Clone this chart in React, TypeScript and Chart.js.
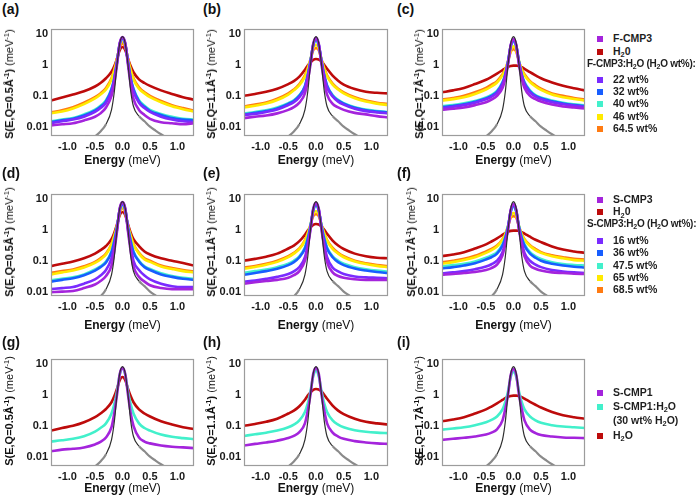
import React, { useEffect, useRef } from 'react';
import { Chart, registerables } from 'chart.js';
Chart.register(...registerables);

const FONT = '"Liberation Sans", Arial, sans-serif';

// Energy grid (meV) shared by all sample curves
const ENERGY = [-1.3, -1.1, -0.9, -0.7, -0.5, -0.4, -0.3, -0.2, -0.15, -0.1, -0.05, 0, 0.05, 0.1, 0.15, 0.2, 0.3, 0.4, 0.5, 0.7, 0.9, 1.1, 1.3];
const X_TICKS = [-1, -0.5, 0, 0.5, 1];
const X_TICK_LABELS = ['-1.0', '-0.5', '0.0', '0.5', '1.0'];
const Y_TICKS = [0.01, 0.1, 1, 10];
const Y_TICK_LABELS = ['0.01', '0.1', '1', '10'];

// Resolution function (vanadium)
const RES_E = [-0.6, -0.5, -0.4, -0.3, -0.2, -0.15, -0.1, -0.05, 0, 0.05, 0.1, 0.15, 0.2, 0.3, 0.4, 0.5, 0.6, 0.7, 0.8, 0.9];
const RES_V = [0.003, 0.0048, 0.007, 0.012, 0.035, 0.13, 1.0, 5.0, 8.2, 5.0, 1.0, 0.14, 0.045, 0.022, 0.015, 0.01, 0.0075, 0.0057, 0.0044, 0.003];

// (a) Q = 0.5
const A_FCMP3 = [0.011, 0.012, 0.013, 0.016, 0.021, 0.027, 0.042, 0.1, 0.25, 1.0, 5.0, 8.0, 5.0, 1.0, 0.22, 0.08, 0.035, 0.024, 0.018, 0.014, 0.013, 0.012, 0.013];
const A_H2O = [0.07, 0.088, 0.11, 0.14, 0.2, 0.26, 0.37, 0.6, 0.9, 1.6, 3.0, 3.8, 3.0, 1.6, 0.9, 0.58, 0.34, 0.26, 0.21, 0.15, 0.115, 0.09, 0.075];
const A_22 = [0.013, 0.015, 0.017, 0.021, 0.03, 0.04, 0.06, 0.14, 0.33, 1.2, 5.0, 7.5, 5.0, 1.2, 0.33, 0.14, 0.06, 0.04, 0.03, 0.021, 0.017, 0.015, 0.014];
const A_32 = [0.014, 0.016, 0.018, 0.023, 0.033, 0.044, 0.066, 0.16, 0.36, 1.25, 4.8, 7.0, 4.8, 1.25, 0.36, 0.16, 0.066, 0.044, 0.032, 0.024, 0.019, 0.017, 0.016];
const A_40 = [0.015, 0.017, 0.019, 0.025, 0.036, 0.048, 0.072, 0.17, 0.38, 1.3, 4.5, 6.5, 4.5, 1.3, 0.38, 0.17, 0.072, 0.048, 0.035, 0.026, 0.021, 0.018, 0.017];
const A_46 = [0.027, 0.031, 0.039, 0.054, 0.082, 0.11, 0.16, 0.34, 0.65, 1.5, 4.2, 6.0, 4.2, 1.5, 0.65, 0.34, 0.17, 0.12, 0.09, 0.062, 0.046, 0.037, 0.031];
const A_64 = [0.029, 0.034, 0.043, 0.06, 0.09, 0.12, 0.18, 0.37, 0.7, 1.6, 3.8, 5.0, 3.8, 1.6, 0.7, 0.37, 0.19, 0.13, 0.1, 0.068, 0.05, 0.04, 0.033];

// (b) Q = 1.1
const B_FCMP3 = [0.019, 0.021, 0.023, 0.027, 0.035, 0.043, 0.06, 0.12, 0.3, 1.0, 4.8, 7.5, 4.8, 1.0, 0.28, 0.11, 0.055, 0.042, 0.035, 0.028, 0.025, 0.022, 0.02];
const B_H2O = [0.1, 0.115, 0.135, 0.17, 0.24, 0.3, 0.42, 0.7, 0.95, 1.2, 1.45, 1.55, 1.5, 1.3, 1.0, 0.75, 0.45, 0.31, 0.23, 0.165, 0.135, 0.125, 0.12];
const B_22 = [0.024, 0.026, 0.03, 0.036, 0.05, 0.062, 0.09, 0.18, 0.42, 1.25, 4.6, 7.0, 4.6, 1.25, 0.42, 0.19, 0.095, 0.065, 0.052, 0.038, 0.032, 0.029, 0.027];
const B_32 = [0.025, 0.028, 0.032, 0.039, 0.055, 0.068, 0.1, 0.2, 0.45, 1.3, 4.4, 6.5, 4.4, 1.3, 0.45, 0.21, 0.1, 0.07, 0.056, 0.041, 0.034, 0.031, 0.029];
const B_40 = [0.027, 0.03, 0.034, 0.042, 0.058, 0.072, 0.105, 0.21, 0.47, 1.35, 4.2, 6.0, 4.2, 1.35, 0.47, 0.22, 0.105, 0.074, 0.058, 0.043, 0.036, 0.032, 0.03];
const B_46 = [0.042, 0.048, 0.056, 0.073, 0.11, 0.15, 0.22, 0.42, 0.72, 1.45, 3.4, 4.5, 3.4, 1.45, 0.72, 0.43, 0.23, 0.16, 0.12, 0.083, 0.065, 0.056, 0.05];
const B_64 = [0.045, 0.052, 0.061, 0.08, 0.12, 0.16, 0.24, 0.46, 0.78, 1.5, 3.0, 3.5, 3.0, 1.5, 0.78, 0.46, 0.25, 0.17, 0.13, 0.09, 0.07, 0.06, 0.055];

// (c) Q = 1.7
const C_FCMP3 = [0.035, 0.038, 0.042, 0.05, 0.062, 0.075, 0.1, 0.18, 0.36, 1.0, 4.5, 7.0, 4.5, 1.0, 0.36, 0.18, 0.1, 0.078, 0.065, 0.052, 0.045, 0.042, 0.039];
const C_H2O = [0.13, 0.15, 0.18, 0.24, 0.33, 0.41, 0.52, 0.68, 0.78, 0.86, 0.92, 0.95, 0.95, 0.93, 0.84, 0.75, 0.58, 0.46, 0.37, 0.27, 0.21, 0.175, 0.15];
const C_22 = [0.04, 0.044, 0.05, 0.06, 0.077, 0.093, 0.125, 0.24, 0.45, 1.2, 4.3, 6.5, 4.3, 1.2, 0.45, 0.24, 0.13, 0.095, 0.078, 0.062, 0.053, 0.048, 0.044];
const C_32 = [0.043, 0.047, 0.053, 0.064, 0.082, 0.1, 0.135, 0.26, 0.48, 1.25, 4.1, 6.0, 4.1, 1.25, 0.48, 0.26, 0.14, 0.1, 0.083, 0.066, 0.056, 0.05, 0.046];
const C_40 = [0.046, 0.05, 0.057, 0.068, 0.088, 0.107, 0.145, 0.28, 0.5, 1.3, 3.9, 5.5, 3.9, 1.3, 0.5, 0.28, 0.15, 0.105, 0.088, 0.07, 0.059, 0.053, 0.049];
const C_46 = [0.07, 0.078, 0.09, 0.115, 0.16, 0.2, 0.27, 0.46, 0.68, 1.3, 3.0, 4.0, 3.0, 1.3, 0.68, 0.46, 0.28, 0.2, 0.155, 0.11, 0.09, 0.079, 0.07];
const C_64 = [0.075, 0.085, 0.1, 0.13, 0.18, 0.23, 0.3, 0.5, 0.72, 1.3, 2.7, 3.2, 2.7, 1.3, 0.72, 0.5, 0.3, 0.22, 0.17, 0.12, 0.1, 0.085, 0.075];

// (d) Q = 0.5
const D_SCMP3 = [0.0095, 0.01, 0.0105, 0.013, 0.017, 0.022, 0.032, 0.07, 0.2, 0.9, 5.0, 8.0, 5.0, 0.9, 0.2, 0.065, 0.03, 0.021, 0.016, 0.013, 0.012, 0.012, 0.012];
const D_H2O = [0.067, 0.08, 0.095, 0.12, 0.17, 0.22, 0.3, 0.5, 0.8, 1.5, 3.0, 3.8, 3.0, 1.5, 0.8, 0.5, 0.3, 0.2, 0.16, 0.12, 0.1, 0.085, 0.07];
const D_16 = [0.012, 0.013, 0.014, 0.018, 0.025, 0.033, 0.05, 0.12, 0.3, 1.0, 4.8, 7.5, 4.8, 1.0, 0.3, 0.1, 0.05, 0.033, 0.025, 0.018, 0.015, 0.014, 0.014];
const D_36 = [0.021, 0.024, 0.027, 0.034, 0.048, 0.062, 0.088, 0.19, 0.42, 1.2, 4.5, 6.8, 4.5, 1.2, 0.42, 0.19, 0.095, 0.062, 0.05, 0.036, 0.03, 0.026, 0.024];
const D_47 = [0.023, 0.026, 0.029, 0.036, 0.052, 0.066, 0.094, 0.2, 0.45, 1.25, 4.3, 6.2, 4.3, 1.25, 0.45, 0.2, 0.1, 0.066, 0.054, 0.039, 0.032, 0.028, 0.026];
const D_65 = [0.036, 0.042, 0.048, 0.06, 0.085, 0.11, 0.16, 0.33, 0.62, 1.3, 3.8, 5.5, 3.8, 1.3, 0.62, 0.33, 0.17, 0.11, 0.092, 0.065, 0.054, 0.046, 0.042];
const D_68 = [0.04, 0.046, 0.052, 0.066, 0.092, 0.12, 0.17, 0.35, 0.66, 1.35, 3.6, 5.0, 3.6, 1.35, 0.66, 0.35, 0.18, 0.12, 0.1, 0.07, 0.058, 0.05, 0.045];

// (e) Q = 1.1
const E_SCMP3 = [0.018, 0.02, 0.022, 0.024, 0.028, 0.034, 0.046, 0.1, 0.27, 1.0, 4.8, 7.5, 4.8, 1.0, 0.26, 0.09, 0.042, 0.032, 0.028, 0.025, 0.024, 0.024, 0.024];
const E_H2O = [0.1, 0.115, 0.135, 0.17, 0.25, 0.31, 0.43, 0.7, 0.95, 1.2, 1.45, 1.55, 1.5, 1.3, 1.0, 0.75, 0.45, 0.31, 0.24, 0.17, 0.14, 0.125, 0.12];
const E_16 = [0.021, 0.023, 0.026, 0.03, 0.037, 0.045, 0.063, 0.13, 0.33, 1.1, 4.6, 7.0, 4.6, 1.1, 0.33, 0.13, 0.06, 0.045, 0.037, 0.031, 0.029, 0.028, 0.027];
const E_36 = [0.035, 0.04, 0.046, 0.055, 0.072, 0.09, 0.13, 0.25, 0.5, 1.3, 4.3, 6.5, 4.3, 1.3, 0.5, 0.25, 0.13, 0.09, 0.072, 0.056, 0.048, 0.043, 0.04];
const E_47 = [0.041, 0.046, 0.052, 0.062, 0.08, 0.1, 0.14, 0.27, 0.54, 1.35, 4.1, 6.0, 4.1, 1.35, 0.54, 0.27, 0.14, 0.1, 0.08, 0.062, 0.053, 0.048, 0.045];
const E_65 = [0.055, 0.063, 0.074, 0.092, 0.13, 0.17, 0.24, 0.44, 0.74, 1.4, 3.2, 4.0, 3.2, 1.4, 0.74, 0.45, 0.24, 0.17, 0.13, 0.095, 0.078, 0.068, 0.062];
const E_68 = [0.06, 0.068, 0.08, 0.1, 0.14, 0.18, 0.25, 0.47, 0.78, 1.45, 2.8, 3.2, 2.8, 1.45, 0.78, 0.47, 0.26, 0.18, 0.14, 0.1, 0.083, 0.073, 0.067];

// (f) Q = 1.7
const F_SCMP3 = [0.035, 0.037, 0.04, 0.043, 0.05, 0.058, 0.075, 0.15, 0.35, 1.0, 4.5, 7.0, 4.5, 1.0, 0.33, 0.14, 0.07, 0.055, 0.048, 0.042, 0.04, 0.038, 0.037];
const F_H2O = [0.14, 0.16, 0.19, 0.25, 0.34, 0.42, 0.53, 0.69, 0.79, 0.87, 0.93, 0.95, 0.95, 0.93, 0.85, 0.76, 0.6, 0.48, 0.4, 0.29, 0.23, 0.2, 0.18];
const F_16 = [0.039, 0.042, 0.046, 0.053, 0.065, 0.077, 0.1, 0.19, 0.4, 1.1, 4.3, 6.5, 4.3, 1.1, 0.4, 0.18, 0.1, 0.075, 0.062, 0.05, 0.045, 0.042, 0.04];
const F_36 = [0.056, 0.062, 0.07, 0.083, 0.11, 0.13, 0.17, 0.31, 0.55, 1.25, 4.0, 6.0, 4.0, 1.25, 0.55, 0.31, 0.17, 0.125, 0.1, 0.08, 0.07, 0.064, 0.06];
const F_47 = [0.065, 0.072, 0.08, 0.095, 0.125, 0.15, 0.19, 0.34, 0.58, 1.3, 3.8, 5.5, 3.8, 1.3, 0.58, 0.34, 0.19, 0.14, 0.115, 0.09, 0.078, 0.073, 0.07];
const F_65 = [0.08, 0.09, 0.105, 0.13, 0.18, 0.22, 0.29, 0.48, 0.7, 1.3, 2.8, 3.5, 2.8, 1.3, 0.7, 0.48, 0.3, 0.22, 0.18, 0.14, 0.12, 0.105, 0.1];
const F_68 = [0.09, 0.1, 0.115, 0.145, 0.2, 0.24, 0.31, 0.5, 0.73, 1.3, 2.5, 2.8, 2.5, 1.3, 0.73, 0.5, 0.32, 0.24, 0.19, 0.15, 0.13, 0.115, 0.11];

// (g) Q = 0.5
const G_SCMP1 = [0.015, 0.017, 0.018, 0.02, 0.025, 0.03, 0.042, 0.09, 0.25, 1.0, 4.8, 7.5, 4.8, 1.0, 0.25, 0.1, 0.042, 0.031, 0.027, 0.023, 0.021, 0.02, 0.019];
const G_30 = [0.031, 0.034, 0.038, 0.046, 0.065, 0.085, 0.12, 0.25, 0.5, 1.3, 4.5, 7.0, 4.5, 1.3, 0.5, 0.25, 0.12, 0.085, 0.07, 0.052, 0.044, 0.04, 0.037];
const G_H2O = [0.07, 0.085, 0.1, 0.13, 0.19, 0.25, 0.35, 0.58, 0.9, 1.6, 3.0, 3.8, 3.0, 1.6, 0.9, 0.58, 0.34, 0.25, 0.2, 0.14, 0.11, 0.09, 0.078];

// (h) Q = 1.1
const H_SCMP1 = [0.023, 0.026, 0.029, 0.033, 0.04, 0.047, 0.062, 0.12, 0.3, 1.0, 4.8, 7.5, 4.8, 1.0, 0.3, 0.12, 0.06, 0.045, 0.038, 0.032, 0.029, 0.027, 0.026];
const H_30 = [0.047, 0.053, 0.06, 0.07, 0.09, 0.11, 0.15, 0.28, 0.52, 1.3, 4.0, 6.0, 4.0, 1.3, 0.52, 0.28, 0.15, 0.11, 0.09, 0.072, 0.064, 0.06, 0.058];
const H_H2O = [0.1, 0.115, 0.135, 0.17, 0.25, 0.31, 0.43, 0.7, 0.95, 1.2, 1.45, 1.55, 1.5, 1.3, 1.0, 0.75, 0.45, 0.31, 0.24, 0.17, 0.135, 0.12, 0.11];

// (i) Q = 1.7
const I_SCMP1 = [0.035, 0.038, 0.041, 0.045, 0.052, 0.06, 0.077, 0.15, 0.35, 1.0, 4.5, 7.0, 4.5, 1.0, 0.35, 0.15, 0.075, 0.058, 0.05, 0.045, 0.042, 0.041, 0.04];
const I_30 = [0.075, 0.082, 0.09, 0.105, 0.13, 0.155, 0.2, 0.34, 0.58, 1.3, 3.8, 5.5, 3.8, 1.3, 0.58, 0.34, 0.2, 0.15, 0.125, 0.105, 0.095, 0.09, 0.085];
const I_H2O = [0.14, 0.16, 0.19, 0.25, 0.34, 0.42, 0.53, 0.69, 0.79, 0.87, 0.93, 0.95, 0.95, 0.93, 0.85, 0.76, 0.6, 0.48, 0.39, 0.28, 0.22, 0.19, 0.17];

const COLORS: Record<string, string> = {
  purple: '#a424dc',
  red: '#bd0b0b',
  violet: '#7a2bff',
  blue: '#175eff',
  turq: '#42f0cb',
  yellow: '#ffea00',
  orange: '#ff7b12',
};

// layout
const COL_LEFT = [51, 244, 442];
const COL_RIGHT = [194, 388, 585];
const ROW_TOP = [23, 188, 353];
const ROW_BOTTOM = [136, 296, 466];
const ROW_YMIN = [0.005, 0.0072, 0.005];
const Y_MAX = 15;
const YW = 40, PT = 4, PR = 6, XH = 22;

type Series = [number[], string];
interface Panel { letter: string; q: string; col: number; row: number; series: Series[]; }

const PANELS: Panel[] = [
  { letter: 'a', q: '0.5', col: 0, row: 0, series: [[A_FCMP3, 'purple'], [A_22, 'violet'], [A_32, 'blue'], [A_40, 'turq'], [A_46, 'yellow'], [A_64, 'orange'], [A_H2O, 'red']] },
  { letter: 'b', q: '1.1', col: 1, row: 0, series: [[B_FCMP3, 'purple'], [B_22, 'violet'], [B_32, 'blue'], [B_40, 'turq'], [B_46, 'yellow'], [B_64, 'orange'], [B_H2O, 'red']] },
  { letter: 'c', q: '1.7', col: 2, row: 0, series: [[C_FCMP3, 'purple'], [C_22, 'violet'], [C_32, 'blue'], [C_40, 'turq'], [C_46, 'yellow'], [C_64, 'orange'], [C_H2O, 'red']] },
  { letter: 'd', q: '0.5', col: 0, row: 1, series: [[D_SCMP3, 'purple'], [D_16, 'violet'], [D_36, 'blue'], [D_47, 'turq'], [D_65, 'yellow'], [D_68, 'orange'], [D_H2O, 'red']] },
  { letter: 'e', q: '1.1', col: 1, row: 1, series: [[E_SCMP3, 'purple'], [E_16, 'violet'], [E_36, 'blue'], [E_47, 'turq'], [E_65, 'yellow'], [E_68, 'orange'], [E_H2O, 'red']] },
  { letter: 'f', q: '1.7', col: 2, row: 1, series: [[F_SCMP3, 'purple'], [F_16, 'violet'], [F_36, 'blue'], [F_47, 'turq'], [F_65, 'yellow'], [F_68, 'orange'], [F_H2O, 'red']] },
  { letter: 'g', q: '0.5', col: 0, row: 2, series: [[G_SCMP1, 'purple'], [G_30, 'turq'], [G_H2O, 'red']] },
  { letter: 'h', q: '1.1', col: 1, row: 2, series: [[H_SCMP1, 'purple'], [H_30, 'turq'], [H_H2O, 'red']] },
  { letter: 'i', q: '1.7', col: 2, row: 2, series: [[I_SCMP1, 'purple'], [I_30, 'turq'], [I_H2O, 'red']] },
];

const boxPlugin = {
  id: 'box',
  afterDraw(chart: any) {
    const { ctx, chartArea: a } = chart;
    ctx.save();
    ctx.strokeStyle = '#9c9c9c';
    ctx.lineWidth = 1.2;
    ctx.strokeRect(Math.round(a.left) + 0.5, Math.round(a.top) + 0.5, Math.round(a.right - a.left) - 1, Math.round(a.bottom - a.top) - 1);
    ctx.restore();
  },
};

function makeConfig(p: Panel): any {
  const tickFont = { family: FONT, size: 11, weight: 'bold' as const };
  const datasets: any[] = [
    {
      data: RES_E.map((x, i) => ({ x, y: RES_V[i] })),
      borderColor: '#2e2e2e',
      borderWidth: 1.2,
      pointRadius: 0,
      cubicInterpolationMode: 'monotone',
      segment: {
        borderColor: (c: any) => (c.p0.parsed.y < 0.03 && c.p1.parsed.y < 0.03 ? '#8a8a8a' : undefined),
        borderWidth: (c: any) => (c.p0.parsed.y < 0.03 && c.p1.parsed.y < 0.03 ? 2.2 : undefined),
      },
    },
    ...p.series.map(([vals, col]) => ({
      data: ENERGY.map((x, i) => ({ x, y: vals[i] })),
      borderColor: COLORS[col],
      borderWidth: 2.6,
      pointRadius: 0,
      cubicInterpolationMode: 'monotone',
    })),
  ];
  return {
    type: 'line',
    data: { datasets },
    options: {
      animation: false,
      responsive: false,
      devicePixelRatio: 1,
      events: [],
      layout: { padding: { top: PT, right: PR, left: 0, bottom: 0 } },
      plugins: { legend: { display: false }, tooltip: { enabled: false } },
      scales: {
        x: {
          type: 'linear',
          min: -1.3,
          max: 1.3,
          grid: { display: false, drawTicks: false },
          border: { display: false },
          afterBuildTicks: (s: any) => { s.ticks = X_TICKS.map((v) => ({ value: v })); },
          afterFit: (s: any) => { s.height = XH; },
          ticks: {
            font: tickFont,
            color: '#1a1a1a',
            padding: 4,
            maxRotation: 0,
            autoSkip: false,
            callback: (v: number) => X_TICK_LABELS[X_TICKS.findIndex((t) => Math.abs(t - v) < 1e-6)] ?? '',
          },
        },
        y: {
          type: 'logarithmic',
          min: ROW_YMIN[p.row],
          max: Y_MAX,
          grid: { display: false, drawTicks: false },
          border: { display: false },
          afterBuildTicks: (s: any) => { s.ticks = Y_TICKS.map((v) => ({ value: v })); },
          afterFit: (s: any) => { s.width = YW; },
          ticks: {
            font: tickFont,
            color: '#1a1a1a',
            padding: 3,
            autoSkip: false,
            callback: (v: number) => Y_TICK_LABELS[Y_TICKS.findIndex((t) => Math.abs(t - v) / t < 1e-6)] ?? '',
          },
        },
      },
    },
    plugins: [boxPlugin],
  };
}

const Sup = ({ children }: { children: React.ReactNode }) => (
  <span style={{ fontSize: '0.68em', position: 'relative', top: '-0.5em' }}>{children}</span>
);
const Sub = ({ children }: { children: React.ReactNode }) => (
  <span style={{ fontSize: '0.7em', position: 'relative', top: '0.3em' }}>{children}</span>
);

const LETTER_X = [2, 203, 397];
const LETTER_Y = [1, 165, 334];
const YTITLE_X = [[10, 211.5, 420], [10, 211.5, 412], [10, 211.5, 420]];
const YTITLE_Y = [84, 242, 411];
const XTITLE_Y = [160, 325, 488];

const LEG_SQ_X = 597;
const LEG_TX_X = 613;

function LegendItem({ y, color, children }: { y: number; color?: string; children: React.ReactNode }) {
  return (
    <>
      {color && (
        <div style={{ position: 'absolute', left: LEG_SQ_X, top: y - 3, width: 6, height: 6, background: color }} />
      )}
      <div style={{ position: 'absolute', left: LEG_TX_X, top: y - 7, lineHeight: '14px', font: `bold 10.5px ${FONT}`, color: '#1e1e1e', whiteSpace: 'nowrap' }}>
        {children}
      </div>
    </>
  );
}

function LegendHeader({ x, y, children }: { x: number; y: number; children: React.ReactNode }) {
  return (
    <div style={{ position: 'absolute', left: x, top: y - 7, lineHeight: '14px', font: `bold 10px ${FONT}`, letterSpacing: '-0.25px', color: '#1e1e1e', whiteSpace: 'nowrap' }}>
      {children}
    </div>
  );
}

export default function App() {
  const refs = useRef<(HTMLCanvasElement | null)[]>([]);

  useEffect(() => {
    const charts = PANELS.map((p, i) => new Chart(refs.current[i] as HTMLCanvasElement, makeConfig(p)));
    return () => charts.forEach((c) => c.destroy());
  }, []);

  return (
    <div style={{ position: 'absolute', left: 0, top: 0, width: 698, height: 496, overflow: 'hidden', background: '#fff', fontFamily: FONT }}>
      {PANELS.map((p, i) => {
        const left = COL_LEFT[p.col] - YW;
        const top = ROW_TOP[p.row] - PT;
        const w = YW + (COL_RIGHT[p.col] - COL_LEFT[p.col]) + PR;
        const h = PT + (ROW_BOTTOM[p.row] - ROW_TOP[p.row]) + XH;
        const cx = (COL_LEFT[p.col] + COL_RIGHT[p.col]) / 2;
        return (
          <React.Fragment key={p.letter}>
            <canvas
              ref={(el) => { refs.current[i] = el; }}
              width={w}
              height={h}
              style={{ position: 'absolute', left, top, width: w, height: h }}
            />
            <div style={{ position: 'absolute', left: LETTER_X[p.col], top: LETTER_Y[p.row], font: `bold 14px ${FONT}`, lineHeight: '16px', color: '#111' }}>
              ({p.letter})
            </div>
            <div
              style={{
                position: 'absolute',
                left: YTITLE_X[p.row][p.col],
                top: YTITLE_Y[p.row],
                transform: 'translate(-50%, -50%) rotate(-90deg)',
                whiteSpace: 'nowrap',
                font: `11px ${FONT}`,
                lineHeight: '13px',
                color: '#111',
              }}
            >
              <b>S(E,Q={p.q}Å<Sup>-1</Sup>)</b> (meV<Sup>-1</Sup>)
            </div>
            <div
              style={{
                position: 'absolute',
                left: cx,
                top: XTITLE_Y[p.row],
                transform: 'translate(-50%, -50%)',
                whiteSpace: 'nowrap',
                font: `12px ${FONT}`,
                lineHeight: '14px',
                color: '#111',
              }}
            >
              <b>Energy</b> (meV)
            </div>
          </React.Fragment>
        );
      })}

      {/* Legend row 1 */}
      <LegendItem y={39} color={COLORS.purple}>F-CMP3</LegendItem>
      <LegendItem y={51.7} color={COLORS.red}>H<Sub>2</Sub>0</LegendItem>
      <LegendHeader x={587} y={64.7}>F-CMP3:H<Sub>2</Sub>O (H<Sub>2</Sub>O wt%):</LegendHeader>
      <LegendItem y={80} color={COLORS.violet}>22 wt%</LegendItem>
      <LegendItem y={92} color={COLORS.blue}>32 wt%</LegendItem>
      <LegendItem y={104.3} color={COLORS.turq}>40 wt%</LegendItem>
      <LegendItem y={116.7} color={COLORS.yellow}>46 wt%</LegendItem>
      <LegendItem y={128.7} color={COLORS.orange}>64.5 wt%</LegendItem>

      {/* Legend row 2 */}
      <LegendItem y={200} color={COLORS.purple}>S-CMP3</LegendItem>
      <LegendItem y={212.3} color={COLORS.red}>H<Sub>2</Sub>0</LegendItem>
      <LegendHeader x={587} y={225.3}>S-CMP3:H<Sub>2</Sub>O (H<Sub>2</Sub>O wt%):</LegendHeader>
      <LegendItem y={240.7} color={COLORS.violet}>16 wt%</LegendItem>
      <LegendItem y={253.3} color={COLORS.blue}>36 wt%</LegendItem>
      <LegendItem y={266} color={COLORS.turq}>47.5 wt%</LegendItem>
      <LegendItem y={278} color={COLORS.yellow}>65 wt%</LegendItem>
      <LegendItem y={290} color={COLORS.orange}>68.5 wt%</LegendItem>

      {/* Legend row 3 */}
      <LegendItem y={393.3} color={COLORS.purple}>S-CMP1</LegendItem>
      <LegendItem y={406.7} color={COLORS.turq}>S-CMP1:H<Sub>2</Sub>O</LegendItem>
      <LegendItem y={420.7}>(30 wt% H<Sub>2</Sub>O)</LegendItem>
      <LegendItem y={435.7} color={COLORS.red}>H<Sub>2</Sub>O</LegendItem>
    </div>
  );
}
